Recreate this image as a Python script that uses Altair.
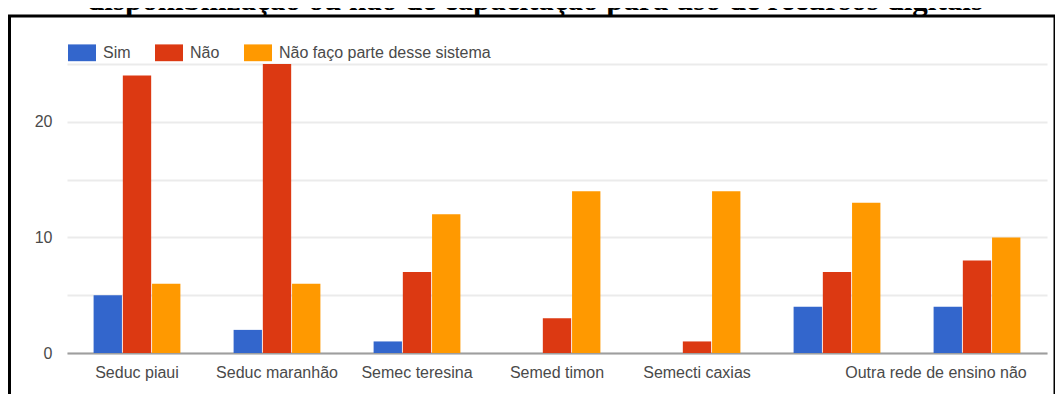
import altair as alt
import pandas as pd

# ---- data ----
categories = ["Seduc piaui", "Seduc maranhão", "Semec teresina", "Semed timon",
              "Semecti caxias", " ", "Outra rede de ensino não"]
series = ["Sim", "Não", "Não faço parte desse sistema"]
sim = [5, 2, 1, 0, 0, 4, 4]
nao = [24, 25, 7, 3, 1, 7, 8]
nao_faco = [6, 6, 12, 14, 14, 13, 10]
colors = ["#3366cc", "#dc3912", "#ff9900"]
y_ticks = [0, 5, 10, 15, 20, 25]
title_text = "disponibilização ou não de capacitação para uso de recursos digitais"

rows = []
for i, c in enumerate(categories):
    for s, vals in zip(series, [sim, nao, nao_faco]):
        rows.append({"rede": c, "resposta": s, "n": vals[i]})
df = pd.DataFrame(rows)

FONT = "Liberation Sans, Arial, sans-serif"
FS = 16
W, H = 980, 289
LAST = categories[-1]

bars = alt.Chart(df).mark_bar().encode(
    x=alt.X(
        "rede:N",
        sort=categories,
        scale=alt.Scale(domain=categories, paddingInner=0.38, paddingOuter=0.19),
        axis=alt.Axis(
            title=None, labelAngle=0, ticks=False, grid=False,
            domainColor="#9e9e9e", domainWidth=2,
            labelFont=FONT, labelFontSize=FS, labelColor="#4a4a4a",
            labelPadding=11, labelLimit=400, labelOverlap=False,
            labelOffset={"condition": {"test": f"datum.value == '{LAST}'", "value": -41}, "value": 0},
        ),
    ),
    xOffset=alt.XOffset("resposta:N", sort=series,
                        scale=alt.Scale(domain=series, paddingInner=0.03)),
    y=alt.Y(
        "n:Q",
        scale=alt.Scale(domain=[0, 25], nice=False),
        axis=alt.Axis(
            title=None, values=y_ticks, domain=False, ticks=False,
            gridColor="#ebebeb", gridWidth=2,
            labelExpr="datum.value % 10 == 0 ? datum.label : ''",
            labelFont=FONT, labelFontSize=FS, labelColor="#4a4a4a",
            labelPadding=15,
        ),
    ),
    color=alt.Color(
        "resposta:N", sort=series,
        scale=alt.Scale(domain=series, range=colors),
        legend=alt.Legend(
            title=None, orient="none", legendX=1, legendY=-25.5,
            direction="horizontal",
            symbolType="M-1,-0.6H1V0.6H-1Z", symbolSize=784, symbolStrokeWidth=0,
            labelFont=FONT, labelFontSize=FS, labelColor="#4a4a4a",
            labelOffset=7, columnPadding=24, padding=0, labelLimit=400,
        ),
    ),
)

border = alt.Chart(pd.DataFrame({"a": [0]})).mark_rect(
    fill="transparent", stroke="black", strokeWidth=3
).encode(
    x=alt.value(-57.5), x2=alt.value(988),
    y=alt.value(-48), y2=alt.value(H + 80),
)

title = alt.Chart(pd.DataFrame({"t": [title_text]})).mark_text(
    font="Liberation Serif", fontSize=31, fontWeight="bold",
    baseline="alphabetic", align="center", color="black",
).encode(text="t:N", x=alt.value(468), y=alt.value(-54))

chart = alt.layer(border, title, bars).properties(
    width=W, height=H,
    autosize=alt.AutoSizeParams(type="none"),
    padding={"left": 59, "top": 56, "right": 8, "bottom": 41},
).configure_view(stroke=None)

chart.save("out.html", embed_options={"renderer": "svg", "actions": False})
